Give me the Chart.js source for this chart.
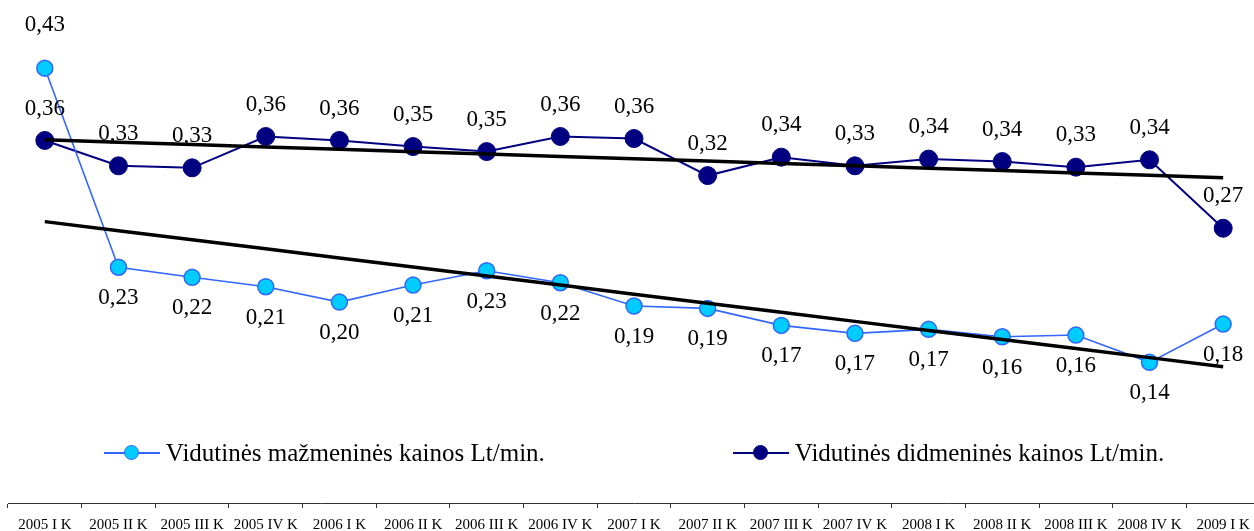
<!DOCTYPE html>
<html lang="lt">
<head>
<meta charset="utf-8">
<title>Vidutinės kainos Lt/min.</title>
<script src="https://cdn.jsdelivr.net/npm/chart.js@4/dist/chart.umd.min.js"></script>
<style>
    html, body { margin: 0; padding: 0; background: #fff; overflow: hidden; }
    #wrap { position: relative; width: 1262px; height: 542px; }
    #chart { display: block; }
    #legend {
        position: absolute; left: 8px; width: 1252px; top: 438px;
        display: flex; justify-content: center; gap: 188px;
        font: 25px "Liberation Serif", "Times New Roman", serif; color: #000;
    }
    .item { display: flex; align-items: center; white-space: nowrap; }
    .sym { position: relative; width: 56px; height: 30px; margin-right: 6px; }
    .sym .ln { position: absolute; left: 0; right: 0; top: 14px; height: 2px; }
    .sym .dot {
        position: absolute; left: 20px; top: 7px; width: 15px; height: 15px;
        border-radius: 50%; box-sizing: border-box;
    }
</style>
</head>
<body>
<div id="wrap">
    <canvas id="chart" width="1262" height="542"></canvas>
    <div id="legend"></div>
</div>
<script>
(() => {
    // Ketvirčiai (x ašis)
    const quarters = [
        "2005 I K", "2005 II K", "2005 III K", "2005 IV K",
        "2006 I K", "2006 II K", "2006 III K", "2006 IV K",
        "2007 I K", "2007 II K", "2007 III K", "2007 IV K",
        "2008 I K", "2008 II K", "2008 III K", "2008 IV K",
        "2009 I K",
    ];

    // Vidutinės mažmeninės kainos Lt/min. (nuskaityta nuo paveikslo)
    const retailName = "Vidutinės mažmeninės kainos Lt/min.";
    const retail = [
        0.427, 0.2315, 0.2216, 0.2124, 0.1973, 0.214, 0.2281, 0.2163,
        0.1934, 0.1911, 0.1744, 0.1666, 0.1705, 0.1632, 0.1649, 0.1381,
        0.1757,
    ];

    // Vidutinės didmeninės kainos Lt/min.
    const wholesaleName = "Vidutinės didmeninės kainos Lt/min.";
    const wholesale = [
        0.356, 0.3311, 0.3291, 0.3599, 0.356, 0.35, 0.3451, 0.3599,
        0.3579, 0.3215, 0.3396, 0.3311, 0.3377, 0.3353, 0.3298, 0.337,
        0.2698,
    ];

    const RETAIL_LINE = "#3366ff";
    const RETAIL_FILL = "#00ccff";
    const WHOLESALE = "#000080";
    const SERIF = "'Liberation Serif', 'Times New Roman', serif";

    // Tiesinis trendas (mažiausių kvadratų metodas), kaip Excel'yje
    function trend(values) {
        const n = values.length;
        const mx = (n - 1) / 2;
        const my = values.reduce((a, b) => a + b, 0) / n;
        let sxy = 0, sxx = 0;
        values.forEach((v, i) => {
            sxy += (i - mx) * (v - my);
            sxx += (i - mx) * (i - mx);
        });
        const k = sxy / sxx;
        return values.map((_, i) => my + k * (i - mx));
    }

    const fmt = (v) => v.toFixed(2).replace(".", ",");

    // Reikšmių etiketės: didmeninės virš taško, mažmeninės po tašku
    // (nebent mažmeninė kaina aukščiau didmeninės).
    const valueLabels = {
        id: "valueLabels",
        afterDatasetsDraw(chart) {
            const ctx = chart.ctx;
            ctx.save();
            ctx.font = "23px " + SERIF;
            ctx.fillStyle = "#000";
            ctx.textAlign = "center";
            ctx.textBaseline = "middle";
            chart.getDatasetMeta(2).data.forEach((pt, i) => {
                const above = retail[i] > wholesale[i];
                ctx.fillText(fmt(retail[i]), pt.x, pt.y + (above ? -43 : 31));
            });
            chart.getDatasetMeta(3).data.forEach((pt, i) => {
                ctx.fillText(fmt(wholesale[i]), pt.x, pt.y - 32);
            });
            ctx.restore();
        },
    };

    new Chart(document.getElementById("chart"), {
        type: "line",
        data: {
            labels: quarters,
            datasets: [
                {
                    label: "trend retail",
                    data: trend(retail),
                    borderColor: "#000",
                    borderWidth: 3.5,
                    pointRadius: 0,
                    order: 0,
                },
                {
                    label: "trend wholesale",
                    data: trend(wholesale),
                    borderColor: "#000",
                    borderWidth: 3.5,
                    pointRadius: 0,
                    order: 0,
                },
                {
                    label: retailName,
                    data: retail,
                    borderColor: RETAIL_LINE,
                    backgroundColor: RETAIL_FILL,
                    pointBackgroundColor: RETAIL_FILL,
                    pointBorderColor: RETAIL_LINE,
                    pointBorderWidth: 1.5,
                    pointRadius: 8,
                    borderWidth: 1.6,
                    tension: 0,
                    order: 1,
                },
                {
                    label: wholesaleName,
                    data: wholesale,
                    borderColor: WHOLESALE,
                    backgroundColor: WHOLESALE,
                    pointBackgroundColor: WHOLESALE,
                    pointBorderColor: WHOLESALE,
                    pointBorderWidth: 1,
                    pointRadius: 9,
                    borderWidth: 2,
                    tension: 0,
                    order: 1,
                },
            ],
        },
        options: {
            responsive: false,
            animation: false,
            events: [],
            layout: { autoPadding: false, padding: { left: 8, right: 2, top: 4, bottom: 0 } },
            plugins: {
                legend: { display: false },
                tooltip: { enabled: false },
            },
            scales: {
                x: {
                    offset: true,
                    grid: {
                        offset: true,
                        drawOnChartArea: false,
                        drawTicks: true,
                        tickLength: 5,
                        color: "#333",
                    },
                    border: { color: "#333", width: 1 },
                    ticks: {
                        color: "#000",
                        font: { family: SERIF, size: 15 },
                        padding: 8,
                        maxRotation: 0,
                        autoSkip: false,
                    },
                },
                y: {
                    display: false,
                    min: 0,
                    max: 0.49,
                },
            },
        },
        plugins: [valueLabels],
    });

    // Legenda tarp grafiko ir x ašies
    const legend = document.getElementById("legend");
    [
        { name: retailName, line: RETAIL_LINE, fill: RETAIL_FILL, border: RETAIL_LINE },
        { name: wholesaleName, line: WHOLESALE, fill: WHOLESALE, border: WHOLESALE },
    ].forEach((s) => {
        const item = document.createElement("div");
        item.className = "item";
        item.innerHTML =
            `<span class="sym"><span class="ln" style="background:${s.line}"></span>` +
            `<span class="dot" style="background:${s.fill};border:1.5px solid ${s.border}"></span></span>` +
            `<span>${s.name}</span>`;
        legend.appendChild(item);
    });
})();
</script>
</body>
</html>
